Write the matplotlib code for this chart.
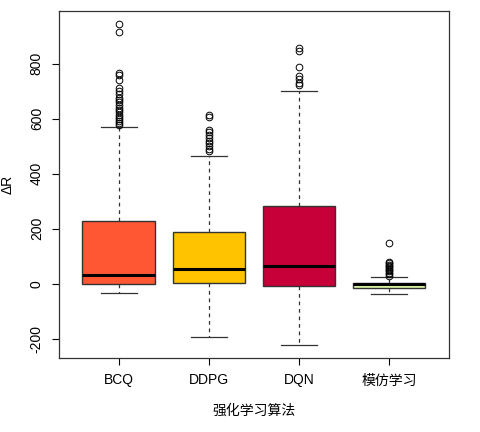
import matplotlib
matplotlib.use('Agg')
import matplotlib.pyplot as plt
import numpy as np

plt.rcParams['font.family'] = ['Liberation Sans', 'Noto Sans CJK SC', 'DejaVu Sans']

# 各算法箱线图统计量
labels = ['BCQ', 'DDPG', 'DQN', '模仿学习']
colors = ['#FF5733', '#FFC300', '#C70039', '#DAF7A6']
whislo = [-32, -193, -223, -37]
q1 = [-1, 2, -8, -16]
med = [33, 54, 65, -2]
q3 = [229, 187, 281, 2]
whishi = [571, 466, 700, 26]
fliers = [
    [945, 915, 765, 757, 740, 712, 700, 688, 675, 668, 660, 650, 640,
     632, 625, 615, 607, 600, 592, 585, 578],
    [615, 605, 560, 550, 540, 530, 520, 510, 500, 490, 482],
    [857, 845, 786, 754, 745, 730, 721],
    [150, 80, 75, 70, 65, 60, 55, 50, 45, 40, 35, 30],
]


def get_stats():
    stats = []
    for i in range(len(labels)):
        stats.append({
            'label': labels[i], 'whislo': whislo[i], 'q1': q1[i], 'med': med[i],
            'q3': q3[i], 'whishi': whishi[i], 'fliers': fliers[i],
        })
    return stats


fig = plt.figure(figsize=(4.8, 4.32), dpi=100)
ax = fig.add_axes([0.123, 0.171, 0.812, 0.804])

bp = ax.bxp(get_stats(), widths=0.8, patch_artist=True, showfliers=True,
            boxprops=dict(edgecolor='#333333', linewidth=1.0),
            medianprops=dict(color='black', linewidth=2.2, solid_capstyle='butt'),
            whiskerprops=dict(color='#333333', linewidth=0.9, linestyle=(0, (3, 3))),
            capprops=dict(color='#333333', linewidth=0.9),
            capwidths=0.4,
            flierprops=dict(marker='o', markersize=4.8, markerfacecolor='none',
                            markeredgecolor='black', markeredgewidth=0.7))
for patch, c in zip(bp['boxes'], colors):
    patch.set_facecolor(c)

# R 风格坐标范围：数据范围外扩 4%
lo = min(min(whislo), min(min(f) for f in fliers))
hi = max(max(whishi), max(max(f) for f in fliers))
pad = (hi - lo) * 0.04
ax.set_ylim(lo - pad, hi + pad)
ax.set_xlim(0.5 - 0.16, 4.5 + 0.16)

ax.set_yticks([-200, 0, 200, 400, 600, 800])
ax.set_yticklabels(['-200', '0', '200', '400', '600', '800'], rotation=90, va='center')
ax.tick_params(axis='both', direction='out', length=5, width=0.8, labelsize=10, pad=6)
for s in ax.spines.values():
    s.set_linewidth(0.9)
    s.set_color('#333333')

ax.set_xlabel('强化学习算法', fontsize=10, labelpad=12)
ax.set_ylabel('ΔR', fontsize=10, labelpad=11)

fig.savefig('out.png', dpi=100)
